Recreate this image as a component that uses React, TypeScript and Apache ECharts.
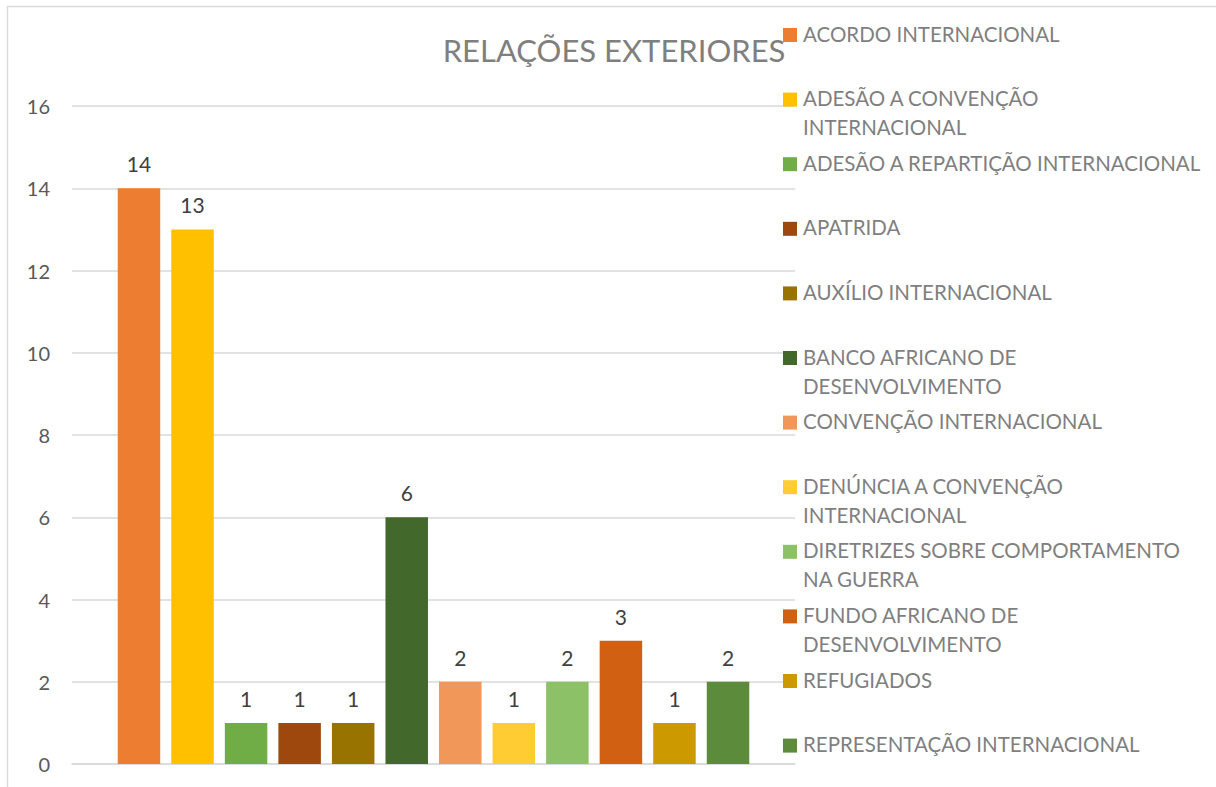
import React, { useEffect, useRef } from "react";
import * as echarts from "echarts";

const seriesNames: string[] = [
  "ACORDO INTERNACIONAL",
  "ADESÃO A CONVENÇÃO INTERNACIONAL",
  "ADESÃO A REPARTIÇÃO INTERNACIONAL",
  "APATRIDA",
  "AUXÍLIO INTERNACIONAL",
  "BANCO AFRICANO DE DESENVOLVIMENTO",
  "CONVENÇÃO INTERNACIONAL",
  "DENÚNCIA A CONVENÇÃO INTERNACIONAL",
  "DIRETRIZES SOBRE COMPORTAMENTO NA GUERRA",
  "FUNDO AFRICANO DE DESENVOLVIMENTO",
  "REFUGIADOS",
  "REPRESENTAÇÃO INTERNACIONAL",
];

const legendLabels: string[] = [
  "ACORDO INTERNACIONAL",
  "ADESÃO A CONVENÇÃO\nINTERNACIONAL",
  "ADESÃO A REPARTIÇÃO INTERNACIONAL",
  "APATRIDA",
  "AUXÍLIO INTERNACIONAL",
  "BANCO AFRICANO DE\nDESENVOLVIMENTO",
  "CONVENÇÃO INTERNACIONAL",
  "DENÚNCIA A CONVENÇÃO\nINTERNACIONAL",
  "DIRETRIZES SOBRE COMPORTAMENTO\nNA GUERRA",
  "FUNDO AFRICANO DE\nDESENVOLVIMENTO",
  "REFUGIADOS",
  "REPRESENTAÇÃO INTERNACIONAL",
];

const values: number[] = [14, 13, 1, 1, 1, 6, 2, 1, 2, 3, 1, 2];

const colors: string[] = [
  "#ED7D31",
  "#FFC000",
  "#70AD47",
  "#9E480E",
  "#997300",
  "#43682B",
  "#F1975A",
  "#FFCD33",
  "#8CC168",
  "#D26012",
  "#CC9A00",
  "#5B8B3B",
];

const categories: string[] = ["Relações Exteriores"];
const titleText = "RELAÇÕES EXTERIORES";
const FONT = "Lato, 'Open Sans', sans-serif";

export default function App() {
  const ref = useRef<HTMLDivElement>(null);
  useEffect(() => {
    document.body.style.margin = "0";
    if (!ref.current) return;
    const chart = echarts.init(ref.current, null, { renderer: "svg" });
    const legendGraphics: any[] = [];
    legendLabels.forEach((label, i) => {
      const top = 28 + i * 64.6;
      legendGraphics.push({
        type: "rect",
        shape: { x: 783, y: top, width: 14, height: 14 },
        style: { fill: colors[i] },
        z: 10,
      });
      legendGraphics.push({
        type: "text",
        x: 803,
        y: top + 7 - 16,
        style: {
          text: label,
          fill: "#7F7F7F",
          font: `20.5px ${FONT}`,
          lineHeight: 29,
          verticalAlign: "top",
          align: "left",
        },
        z: 10,
      });
    });
    const option: any = {
      animation: false,
      backgroundColor: "#ffffff",
      textStyle: { fontFamily: FONT },
      title: {
        text: titleText,
        left: 609,
        top: 29,
        textAlign: "center",
        textStyle: {
          fontFamily: FONT,
          fontSize: 31,
          fontWeight: "normal",
          color: "#7F7F7F",
        },
      },
      grid: { left: 72, right: 421, top: 106, bottom: 23, containLabel: false },
      xAxis: {
        type: "category",
        data: categories,
        axisLine: { show: true, lineStyle: { color: "#D9D9D9", width: 1.5 } },
        axisTick: { show: false },
        axisLabel: { show: false },
      },
      yAxis: {
        type: "value",
        min: 0,
        max: 16,
        interval: 2,
        axisLine: { show: false },
        axisTick: { show: false },
        axisLabel: {
          color: "#595959",
          fontSize: 20,
          fontFamily: FONT,
          margin: 22,
        },
        splitLine: { lineStyle: { color: "#D9D9D9", width: 1.5 } },
      },
      series: seriesNames.map((name, i) => ({
        name,
        type: "bar",
        data: [values[i]],
        barWidth: 42.5,
        barGap: "26%",
        itemStyle: { color: colors[i] },
        label: {
          show: true,
          position: "top",
          distance: 14,
          color: "#404040",
          fontSize: 21,
          fontFamily: FONT,
        },
      })),
      graphic: [
        {
          type: "rect",
          shape: { x: 7.5, y: 6.5, width: 1400, height: 1000 },
          style: { fill: "none", stroke: "#D9D9D9", lineWidth: 1.5 },
          silent: true,
          z: -1,
        },
        ...legendGraphics,
      ],
    };
    chart.setOption(option);
    return () => chart.dispose();
  }, []);
  return <div ref={ref} style={{ width: 1216, height: 787 }} />;
}
